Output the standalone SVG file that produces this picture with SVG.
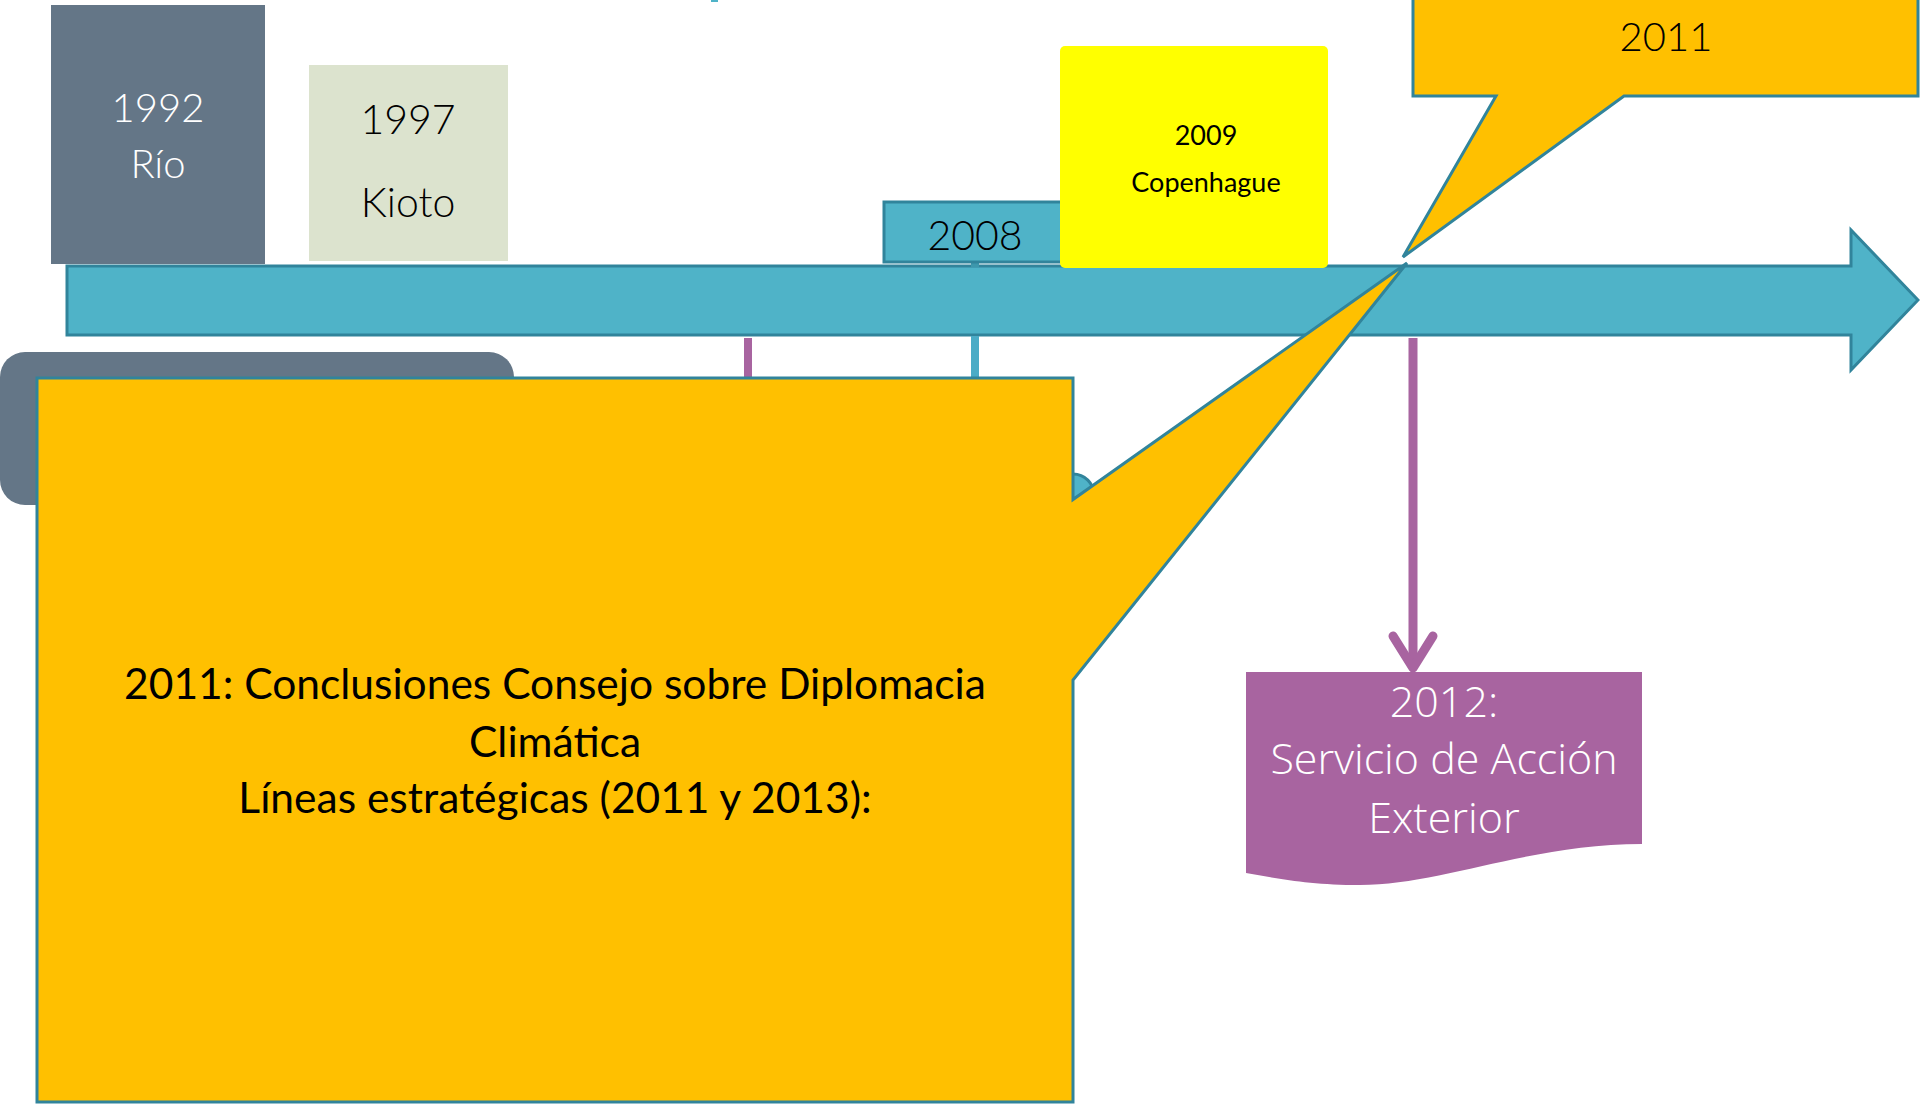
<svg xmlns="http://www.w3.org/2000/svg" width="1920" height="1104" viewBox="0 0 1920 1104">
  <defs>
    <style>
      .lato { font-family: Lato, "Liberation Sans", sans-serif; }
      .light { font-weight: 300; }
      .open { font-family: "Open Sans", "Liberation Sans", sans-serif; font-weight: 300; }
      .teal { fill: #4FB3C8; stroke: #31849B; stroke-width: 3; }
      .orange { fill: #FFC000; stroke: #31849B; stroke-width: 3; stroke-linejoin: miter; }
    </style>
  </defs>
  <rect width="1920" height="1104" fill="#FFFFFF"/>

  <!-- background shapes partly hidden -->
  <rect x="711" y="0" width="7" height="2" fill="#4FB3C8"/>
  <rect id="gray-bg" x="0" y="352" width="514" height="153" rx="25" fill="#647687"/>
  <circle id="teal-bump" cx="1073" cy="495" r="21" class="teal" stroke-width="2.5"/>

  <!-- timeline arrow -->
  <g id="timeline">
    <path d="M67,266 L1851,266 L1851,230 L1918,300 L1851,370 L1851,335 L67,335 Z" class="teal"/>
  </g>

  <!-- connectors -->
  <g id="connectors">
    <line x1="975" y1="262" x2="975" y2="267" stroke="#3D97AC" stroke-width="8"/>
    <line x1="975" y1="336" x2="975" y2="380" stroke="#4BACC6" stroke-width="8"/>
    <line x1="748" y1="338" x2="748" y2="380" stroke="#A864A0" stroke-width="8"/>
    <line x1="1413" y1="338" x2="1413" y2="668" stroke="#A864A0" stroke-width="9"/>
    <polyline points="1393,636 1413,668 1433,636" fill="none" stroke="#A864A0" stroke-width="9" stroke-linecap="round" stroke-linejoin="round"/>
  </g>

  <g id="node-1992">
    <rect x="51" y="5" width="214" height="259" fill="#647687"/>
    <text x="158" y="122" text-anchor="middle" class="lato light" font-size="40" fill="#FFFFFF">1992</text>
    <text x="158" y="178" text-anchor="middle" class="lato light" font-size="40" fill="#FFFFFF">Río</text>
  </g>

  <g id="node-1997">
    <rect x="309" y="65" width="199" height="196" fill="#DCE3CE"/>
    <text x="408" y="134" text-anchor="middle" class="lato light" font-size="41" fill="#000000">1997</text>
    <text x="408" y="217" text-anchor="middle" class="lato light" font-size="41" fill="#000000">Kioto</text>
  </g>

  <g id="node-2008">
    <rect x="884" y="202" width="182" height="60" class="teal"/>
    <text x="975" y="250" text-anchor="middle" class="lato light" font-size="41" fill="#000000">2008</text>
  </g>

  <g id="node-2009">
    <rect x="1060" y="46" width="268" height="222" rx="5" fill="#FFFF00"/>
    <text x="1206" y="145" text-anchor="middle" class="lato" font-size="27" fill="#000000">2009</text>
    <text x="1206" y="192" text-anchor="middle" class="lato" font-size="27" fill="#000000">Copenhague</text>
  </g>

  <g id="node-2012">
    <path d="M1246,672 L1642,672 L1642,844 C1530,844 1440,885 1360,885 C1310,885 1280,879 1246,873 Z" fill="#A864A0"/>
    <text x="1444" y="717" text-anchor="middle" class="open" font-size="43" fill="#FFFFFF">2012:</text>
    <text x="1444" y="774" text-anchor="middle" class="open" font-size="43" fill="#FFFFFF">Servicio de Acción</text>
    <text x="1444" y="833" text-anchor="middle" class="open" font-size="43" fill="#FFFFFF">Exterior</text>
  </g>

  <g id="node-2011-callout">
    <path d="M1413,-5 L1918,-5 L1918,96 L1624,96 L1403,257 L1496,96 L1413,96 Z" class="orange"/>
    <text x="1666" y="51" text-anchor="middle" class="lato light" font-size="40" fill="#000000">2011</text>
  </g>

  <g id="node-conclusiones-callout">
    <path d="M37,378 L1073,378 L1073,499.5 L1407,263 L1073,680 L1073,1102 L37,1102 Z" class="orange"/>
    <text x="555" y="699" text-anchor="middle" class="lato" font-size="42.5" fill="#000000">2011: Conclusiones Consejo sobre Diplomacia</text>
    <text x="555" y="757" text-anchor="middle" class="lato" font-size="42.5" fill="#000000">Climática</text>
    <text x="555" y="813" text-anchor="middle" class="lato" font-size="42.5" fill="#000000">Líneas estratégicas (2011 y 2013):</text>
  </g>
</svg>
